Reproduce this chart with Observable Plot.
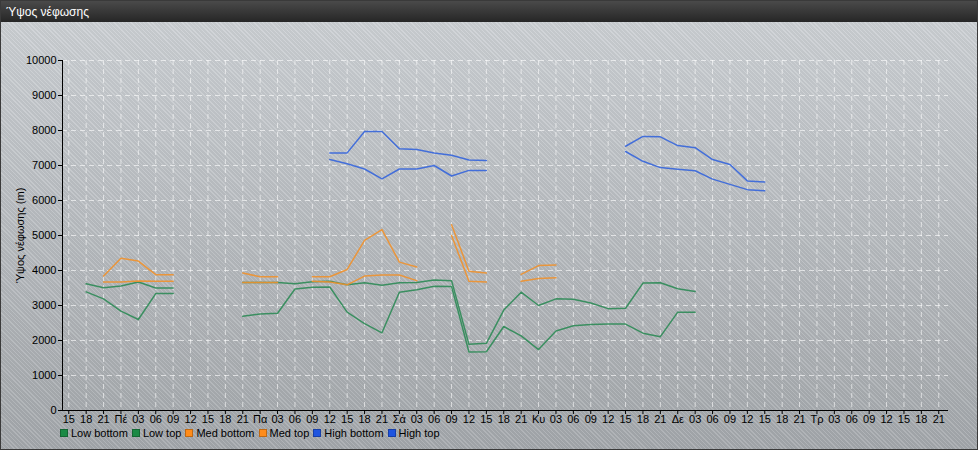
<!DOCTYPE html>
<html>
<head>
<meta charset="utf-8">
<script src="https://cdn.jsdelivr.net/npm/d3@7"></script>
<script src="https://cdn.jsdelivr.net/npm/@observablehq/plot@0.6"></script>
<style>
  html, body { margin: 0; padding: 0; background: #fff; }
  #wrap {
    position: relative; width: 976px; height: 448px; border: 1px solid #3a3a3a;
    background:
      repeating-linear-gradient(45deg, rgba(255,255,255,0.13) 0px, rgba(255,255,255,0.13) 1px, rgba(0,0,0,0.03) 1px, rgba(0,0,0,0.03) 3px),
      linear-gradient(#cdd1d5, #a3a7ab);
    font-family: "Liberation Sans", Arial, sans-serif; overflow: hidden;
  }
  #title {
    height: 21px; line-height: 22px; color: #fff; font-size: 12px; padding-left: 5px;
    background: linear-gradient(#4a4a4a, #262626);
  }
  #chart svg { display: block; }
  #legend { display: flex; align-items: center; height: 12px; margin-top: 0px; padding-left: 59px; font-size: 11px; color: #000; }
  .item { display: flex; align-items: center; margin-right: 4px; }
  .sw { width: 6px; height: 6px; margin-right: 3px; border: 1px solid rgba(0,0,0,0.25); }
</style>
</head>
<body>
<div id="wrap">
  <div id="title">Ύψος νέφωσης</div>
  <div id="chart"></div>
  <div id="legend"></div>
</div>
<script>
// Tick labels along the time axis (every 3 hours)
const xLabels = ["15","18","21",
  "Πέ","03","06","09","12","15","18","21",
  "Πα","03","06","09","12","15","18","21",
  "Σά","03","06","09","12","15","18","21",
  "Κυ","03","06","09","12","15","18","21",
  "Δε","03","06","09","12","15","18","21",
  "Τρ","03","06","09","12","15","18","21"];

const yTicks = [0,1000,2000,3000,4000,5000,6000,7000,8000,9000,10000];

const seriesNames = ["Low bottom","Low top","Med bottom","Med top","High bottom","High top"];
const seriesColors = ["#2e8b57","#2e8b57","#f0912c","#f0912c","#3565db","#3565db"];
const legendColors = ["#1b8a45","#1b8a45","#ff8c1a","#ff8c1a","#1f55e0","#1f55e0"];

const lowBottom = [null,3390,3190,2840,2600,3340,3340,null,null,null,
  2690,2760,2780,3470,3520,3530,2810,2480,2220,3380,3450,3550,3540,1670,1680,2400,2130,1740,2270,2420,2460,2470,2470,2210,2110,2810,2810,
  null,null,null,null,null,null,null,null,null,null,null,null,null,null];
const lowTop = [null,3620,3510,3560,3670,3500,3500,null,null,null,
  3660,3660,3660,3620,3680,3690,3590,3650,3580,3650,3660,3730,3710,1890,1920,2870,3380,3000,3190,3180,3070,2910,2920,3640,3650,3480,3400,
  null,null,null,null,null,null,null,null,null,null,null,null,null,null];
const medBottom = [null,null,3670,3670,3700,3690,3690,null,null,null,
  3660,3660,3660,null,3690,3670,3590,3840,3870,3870,3710,null,5000,3690,3670,null,3690,3770,3790,
  null,null,null,null,null,null,null,null,null,null,null,null,null,null,null,null,null,null,null,null,null,null,null];
const medTop = [null,null,3840,4350,4270,3880,3880,null,null,null,
  3930,3820,3820,null,3820,3820,4030,4860,5170,4240,4100,null,5310,3980,3930,null,3890,4140,4160,
  null,null,null,null,null,null,null,null,null,null,null,null,null,null,null,null,null,null,null,null,null,null,null];
const highBottom = [null,null,null,null,null,null,null,null,null,null,null,null,null,null,null,
  7170,7050,6900,6620,6900,6900,7000,6700,6860,6860,
  null,null,null,null,null,null,null,
  7400,7120,6940,6890,6850,6610,6460,6310,6280,
  null,null,null,null,null,null,null,null,null,null];
const highTop = [null,null,null,null,null,null,null,null,null,null,null,null,null,null,null,
  7360,7360,7970,7970,7480,7460,7360,7290,7160,7140,
  null,null,null,null,null,null,null,
  7550,7830,7820,7570,7510,7170,7030,6560,6530,
  null,null,null,null,null,null,null,null,null,null];

const seriesValues = [lowBottom, lowTop, medBottom, medTop, highBottom, highTop];

const rows = [];
seriesNames.forEach((s, k) => {
  seriesValues[k].forEach((v, i) => rows.push({s, i, v: v == null ? NaN : v}));
});

const xIdx = d3.range(xLabels.length);
const xDomain = [-0.36, 50.56];

const chart = Plot.plot({
  width: 976, height: 405,
  marginLeft: 61, marginRight: 29, marginTop: 38, marginBottom: 17,
  style: {background: "transparent", fontFamily: "'Liberation Sans', Arial, sans-serif", fontSize: "11px", color: "#000", overflow: "visible"},
  x: {domain: xDomain},
  y: {domain: [0, 10000]},
  color: {domain: seriesNames, range: seriesColors},
  marks: [
    Plot.gridX(xIdx, {stroke: "#ffffff", strokeOpacity: 0.6, strokeDasharray: "5,4"}),
    Plot.gridY(yTicks.slice(1), {stroke: "#ffffff", strokeOpacity: 0.6, strokeDasharray: "5,4"}),
    Plot.axisX(xIdx, {tickFormat: i => xLabels[i], tickSize: 4, tickPadding: 1, label: null, fontSize: 11, stroke: "#000"}),
    Plot.axisY(yTicks, {tickSize: 4, tickPadding: 2, fontSize: 11, tickFormat: d => String(d), label: "Ύψος νέφωσης (m)", labelAnchor: "center", labelArrow: "none", labelOffset: 46}),
    Plot.ruleX([xDomain[0]], {stroke: "#000"}),
    Plot.ruleY([0], {stroke: "#000"}),
    Plot.line(rows, {x: "i", y: "v", z: "s", stroke: "s", strokeWidth: 1.5, strokeOpacity: 0.9})
  ]
});
document.getElementById("chart").appendChild(chart);

const legend = document.getElementById("legend");
seriesNames.forEach((s, k) => {
  const it = document.createElement("div");
  it.className = "item";
  const sw = document.createElement("span");
  sw.className = "sw";
  sw.style.background = legendColors[k];
  const tx = document.createElement("span");
  tx.textContent = s;
  it.appendChild(sw); it.appendChild(tx);
  legend.appendChild(it);
});
</script>
</body>
</html>
